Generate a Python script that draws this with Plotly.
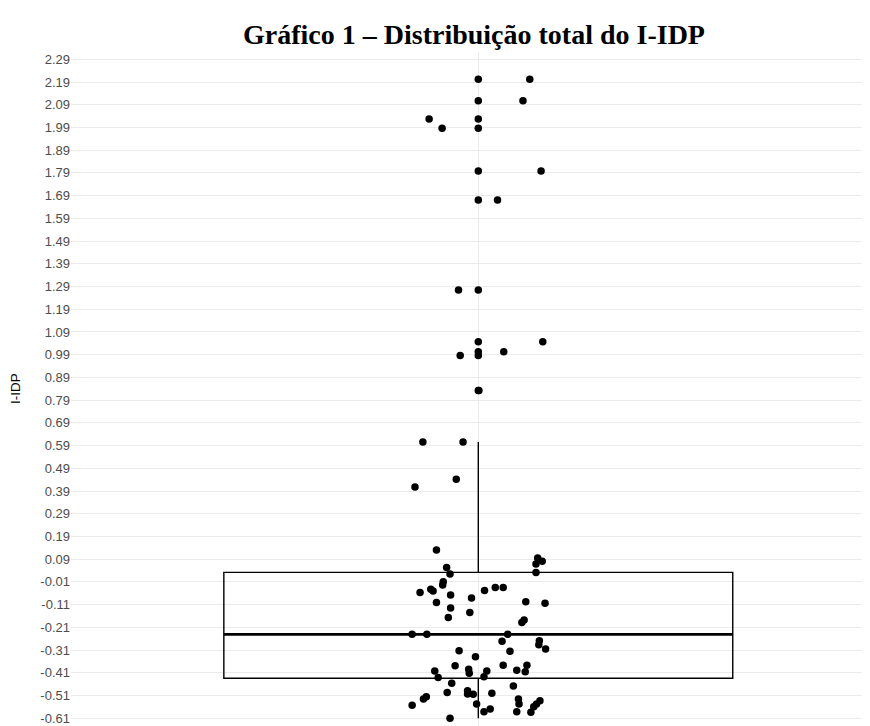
import plotly.graph_objects as go

# ---- data ----
# jittered observations (x = horizontal jitter offset, y = I-IDP value)
jitter_x = [0.091, 0.079, -0.087, -0.064, 0.111, 0.034, -0.035, 0.114, 0.045, -0.032,
            0.001, -0.098, -0.027, -0.039, -0.112, -0.074, -0.056, -0.050, -0.062, -0.063,
            -0.103, -0.084, -0.080, -0.049, -0.074, -0.012, -0.049, -0.015, -0.053, 0.105,
            0.113, 0.102, 0.102, 0.011, 0.030, 0.044, 0.084, 0.118, 0.081, 0.077,
            -0.117, -0.091, 0.052, 0.042, 0.108, 0.107, 0.119, 0.056, -0.034, -0.005,
            -0.041, -0.077, -0.071, -0.017, -0.016, 0.015, 0.010, 0.044, 0.068, 0.086,
            0.083, -0.047, 0.062, -0.019, -0.009, -0.019, -0.055, 0.024, -0.092, -0.097,
            -0.117, -0.003, 0.071, 0.072, 0.068, 0.109, 0.103, 0.098, 0.021, 0.010,
            0.093, -0.050]
idp_values = [2.202, 2.108, 2.027, 1.986, 1.798, 1.671, 1.275, 1.047, 1.003, 0.986,
              0.832, 0.606, 0.606, 0.442, 0.408, 0.131, 0.054, 0.025, -0.009, -0.023,
              -0.056, -0.042, -0.050, -0.067, -0.100, -0.081, -0.125, -0.144, -0.166, 0.095,
              0.081, 0.069, 0.031, -0.048, -0.034, -0.034, -0.097, -0.104, -0.177, -0.189,
              -0.240, -0.240, -0.240, -0.271, -0.269, -0.287, -0.305, -0.315, -0.313, -0.339,
              -0.379, -0.402, -0.431, -0.394, -0.412, -0.402, -0.427, -0.377, -0.399, -0.377,
              -0.405, -0.456, -0.468, -0.489, -0.504, -0.503, -0.497, -0.500, -0.515, -0.525,
              -0.553, -0.547, -0.525, -0.547, -0.581, -0.533, -0.547, -0.559, -0.569, -0.581,
              -0.584, -0.610]

# box statistics
box_q1 = [-0.434]
box_median = [-0.241]
box_q3 = [0.032]
box_lower = [-0.610]
box_upper = [0.606]

tick_labels = ["-0.61", "-0.51", "-0.41", "-0.31", "-0.21", "-0.11", "-0.01", "0.09",
               "0.19", "0.29", "0.39", "0.49", "0.59", "0.69", "0.79", "0.89", "0.99",
               "1.09", "1.19", "1.29", "1.39", "1.49", "1.59", "1.69", "1.79", "1.89",
               "1.99", "2.09", "2.19", "2.29"]
tick_vals = [float(t) for t in tick_labels]

title_text = "Gráfico 1 – Distribuição total do I-IDP"
y_title = "I-IDP"

# outliers derived from the box statistics (beyond 1.5 IQR)
iqr = box_q3[0] - box_q1[0]
hi_fence = box_q3[0] + 1.5 * iqr
lo_fence = box_q1[0] - 1.5 * iqr
outliers = [v for v in idp_values if v > hi_fence or v < lo_fence]

BOX_HALF = 0.45
W, H = 862, 718  # page body has an 8px margin

fig = go.Figure()

fig.add_trace(go.Box(
    x=[0], q1=box_q1, median=box_median, q3=box_q3,
    lowerfence=box_lower, upperfence=box_upper,
    width=2 * BOX_HALF, whiskerwidth=0,
    fillcolor="rgba(255,255,255,0)",
    line=dict(color="black", width=1.4),
    boxpoints=False, hoverinfo="skip", showlegend=False,
))

# thicker median line (ggplot style)
fig.add_trace(go.Scatter(
    x=[-BOX_HALF, BOX_HALF], y=[box_median[0], box_median[0]],
    mode="lines", line=dict(color="black", width=2.8),
    hoverinfo="skip", showlegend=False,
))

# boxplot outliers at the centre
fig.add_trace(go.Scatter(
    x=[0] * len(outliers), y=outliers, mode="markers",
    marker=dict(color="black", size=7.5),
    showlegend=False,
))

# jittered points
fig.add_trace(go.Scatter(
    x=jitter_x, y=idp_values, mode="markers",
    marker=dict(color="black", size=7.5),
    showlegend=False,
))

fig.add_annotation(
    text=y_title, xref="paper", yref="paper", x=0, y=0.5,
    xanchor="center", yanchor="middle", xshift=-56, textangle=-90,
    showarrow=False, font=dict(size=13.5, color="black"),
)

fig.update_layout(
    width=W, height=H,
    paper_bgcolor="white", plot_bgcolor="white",
    margin=dict(l=63, r=0, t=44, b=0, autoexpand=False),
    title=dict(text="<b>" + title_text + "</b>", x=466 / W, xanchor="center",
               y=1 - 26 / H, yanchor="middle",
               font=dict(family="Liberation Serif, DejaVu Serif, serif", size=28, color="black")),
    font=dict(family="Liberation Sans, Arial, sans-serif"),
    xaxis=dict(range=[-0.7203, 0.6927], tickvals=[0], showticklabels=False,
               showgrid=True, gridcolor="#ebebeb", gridwidth=1.2,
               zeroline=False, showline=False, ticks="", automargin=False),
    yaxis=dict(range=[-0.644, 2.322], tickvals=tick_vals, ticktext=tick_labels,
               showgrid=True, gridcolor="#ebebeb", gridwidth=1.2,
               zeroline=False, showline=False, ticks="", automargin=False,
               tickfont=dict(size=13, color="#4d4d4d")),
)

fig.write_html("out.html")
